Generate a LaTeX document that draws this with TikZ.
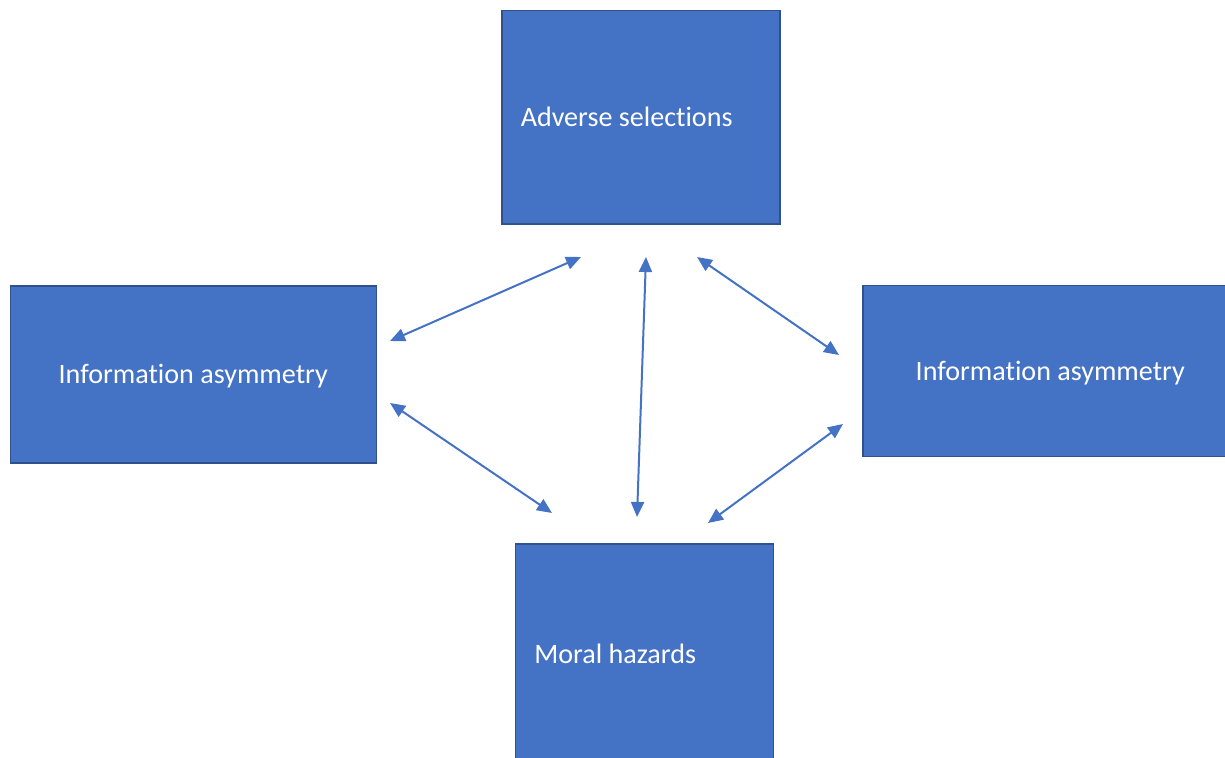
\documentclass[tikz,border=0pt]{standalone}
\usepackage{fontspec}
\setmainfont{Carlito}[Ligatures={NoCommon,NoContextual},Contextuals=NoAlternate,RawFeature={-liga;-clig;-calt;-dlig}]
\usetikzlibrary{arrows.meta}
\definecolor{boxfill}{HTML}{4472C4}
\definecolor{boxline}{HTML}{2F528F}
\definecolor{arrowc}{HTML}{4472C4}
\begin{document}
\begin{tikzpicture}[x=1pt,y=-1pt,
  bluebox/.style={draw=boxline,line width=1.5pt,fill=boxfill,text=white,
    font=\fontsize{28.1}{33}\selectfont,inner sep=0pt,anchor=north west},
  link/.style={draw=arrowc,line width=2pt,
    {Triangle[length=15pt,width=13pt]}-{Triangle[length=15pt,width=13pt]}}]
\useasboundingbox (0,0) rectangle (1225,757);
\clip (0,0) rectangle (1225,757);
% boxes
\node[bluebox,minimum width=278pt,minimum height=213pt,text width=240pt,align=flush left,inner xsep=19pt] (adv) at (501,10) {Adverse selections};
\node[bluebox,minimum width=366pt,minimum height=177pt,align=center,text depth=0pt] (infL) at (9.5,285) {Information asymmetry};
\node[bluebox,minimum width=375pt,minimum height=171pt,align=center,text depth=0pt] (infR) at (862,284.5) {Information asymmetry};
\node[bluebox,minimum width=258pt,minimum height=220pt,text width=220pt,align=flush left,inner xsep=19pt] (moral) at (514.5,543) {Moral hazards};
% connector end points
\coordinate (a1) at (390,341);
\coordinate (a2) at (581,257);
\coordinate (b1) at (390,403);
\coordinate (b2) at (552,513);
\coordinate (c1) at (646,257);
\coordinate (c2) at (637,517);
\coordinate (d1) at (697,257);
\coordinate (d2) at (839,355);
\coordinate (e1) at (843,424);
\coordinate (e2) at (708,523);
\draw[link] (a1) -- (a2);
\draw[link] (b1) -- (b2);
\draw[link] (c1) -- (c2);
\draw[link] (d1) -- (d2);
\draw[link] (e1) -- (e2);
\end{tikzpicture}
\end{document}
